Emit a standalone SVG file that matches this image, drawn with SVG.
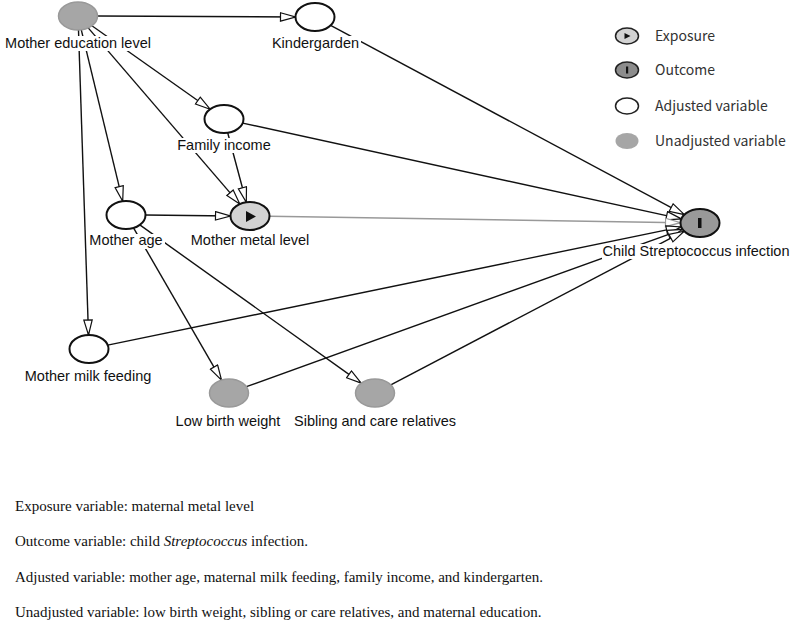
<svg xmlns="http://www.w3.org/2000/svg" width="800" height="622" viewBox="0 0 800 622">
<defs>
<marker id="arr" markerWidth="17" markerHeight="11" refX="16" refY="5" orient="auto" markerUnits="userSpaceOnUse">
<path d="M1,0.8 L16,5 L1,9.2 Z" fill="#fff" stroke="#111" stroke-width="1.2"/>
</marker>
<marker id="arrg" markerWidth="17" markerHeight="11" refX="16" refY="5" orient="auto" markerUnits="userSpaceOnUse">
<path d="M1,0.8 L16,5 L1,9.2 Z" fill="#fff" stroke="#999" stroke-width="1.2"/>
</marker>
</defs>
<style>
.e{stroke:#111;stroke-width:1.4;fill:none;marker-end:url(#arr)}
.eg{stroke:#999;stroke-width:1.4;fill:none;marker-end:url(#arrg)}
.lab{font-family:"Liberation Sans",Arial,sans-serif;font-size:14.5px;fill:#111;text-anchor:middle}
.bg{fill:#fff}
.adj{fill:#fff;stroke:#111;stroke-width:2}
.unadj{fill:#a6a6a6;stroke:#999;stroke-width:1.5}
.leg{font-family:"Noto Sans CJK JP","Noto Sans",sans-serif;font-size:14px;fill:#333}
.cap{font-family:"Liberation Serif","Times New Roman",serif;font-size:15px;fill:#111}
</style>
<rect width="800" height="622" fill="#fff"/>
<g id="connectors">
<line class="e" x1="97.5" y1="16" x2="295.5" y2="17"/>
<line class="e" x1="91.9" y1="25.8" x2="210.1" y2="109.2"/>
<line class="e" x1="88.2" y1="27.9" x2="239.8" y2="204.1"/>
<line class="e" x1="81.3" y1="29.8" x2="122.7" y2="201.2"/>
<line class="e" x1="78.5" y1="30" x2="88.5" y2="335"/>
<line class="e" x1="330.6" y1="25.4" x2="684.4" y2="214.6"/>
<line class="e" x1="242.7" y1="123.1" x2="681.3" y2="218.9"/>
<line class="e" x1="227.7" y1="132.7" x2="246.3" y2="202.3"/>
<line class="e" x1="145.5" y1="215" x2="230.5" y2="216"/>
<line class="eg" x1="269.5" y1="216.3" x2="680.5" y2="222.7"/>
<line class="e" x1="133.5" y1="227.9" x2="221.5" y2="380.1"/>
<line class="e" x1="139.8" y1="224.9" x2="361.2" y2="383.1"/>
<line class="e" x1="107.7" y1="345.1" x2="681.3" y2="226.9"/>
<line class="e" x1="246.4" y1="386.7" x2="682.6" y2="229.3"/>
<line class="e" x1="390.8" y1="384.8" x2="684.2" y2="231.2"/>
</g>
<g id="n-edu">
<ellipse class="unadj" cx="78" cy="16" rx="19.5" ry="14"/>
<rect class="bg" x="3" y="36" width="151" height="15"/>
<text class="lab" x="78" y="48">Mother education level</text>
</g>
<g id="n-kinder">
<ellipse class="adj" cx="315" cy="17" rx="19.5" ry="14"/>
<rect class="bg" x="270" y="36" width="91" height="15"/>
<text class="lab" x="315.5" y="48">Kindergarden</text>
</g>
<g id="n-income">
<ellipse class="adj" cx="224" cy="119" rx="19.5" ry="14"/>
<rect class="bg" x="175" y="138" width="98" height="15"/>
<text class="lab" x="224" y="150">Family income</text>
</g>
<g id="n-age">
<ellipse class="adj" cx="126" cy="215" rx="19.5" ry="14"/>
<rect class="bg" x="87" y="234" width="78" height="15"/>
<text class="lab" x="126" y="245">Mother age</text>
</g>
<g id="n-metal">
<ellipse cx="250" cy="216" rx="19.5" ry="14" fill="#d3d3d3" stroke="#111" stroke-width="2"/>
<path d="M246,211 L256,216.5 L246,222 Z" fill="#111"/>
<rect class="bg" x="189" y="234" width="122" height="15"/>
<text class="lab" x="250" y="245">Mother metal level</text>
</g>
<g id="n-child">
<ellipse cx="700" cy="223" rx="19.5" ry="14" fill="#999" stroke="#111" stroke-width="2"/>
<rect x="698" y="218" width="3.5" height="10" fill="#111"/>
<rect class="bg" x="602" y="244" width="189" height="15"/>
<text class="lab" x="696" y="256">Child Streptococcus infection</text>
</g>
<g id="n-milk">
<ellipse class="adj" cx="89" cy="349" rx="19.5" ry="14"/>
<rect class="bg" x="22" y="370" width="133" height="15"/>
<text class="lab" x="88" y="381">Mother milk feeding</text>
</g>
<g id="n-lbw">
<ellipse class="unadj" cx="229" cy="393" rx="19.5" ry="14"/>
<rect class="bg" x="174" y="414" width="110" height="15"/>
<text class="lab" x="228" y="426">Low birth weight</text>
</g>
<g id="n-sib">
<ellipse class="unadj" cx="375" cy="393" rx="19.5" ry="14"/>
<rect class="bg" x="291" y="414" width="169" height="15"/>
<text class="lab" x="375" y="426">Sibling and care relatives</text>
</g>
<g id="legend">
<ellipse cx="627" cy="36" rx="11.5" ry="8" fill="#d3d3d3" stroke="#222" stroke-width="1.5"/>
<path d="M624.5,33 L630.5,36 L624.5,39 Z" fill="#111"/>
<text class="leg" x="655" y="41">Exposure</text>
<ellipse cx="627" cy="70" rx="11.5" ry="8" fill="#8c8c8c" stroke="#222" stroke-width="1.5"/>
<rect x="626" y="66.5" width="2.2" height="7" fill="#111"/>
<text class="leg" x="655" y="75">Outcome</text>
<ellipse cx="627" cy="106" rx="11.5" ry="8" fill="#fff" stroke="#222" stroke-width="1.5"/>
<text class="leg" x="655" y="111">Adjusted variable</text>
<ellipse cx="627" cy="141" rx="11.5" ry="8" fill="#a6a6a6"/>
<text class="leg" x="655" y="146">Unadjusted variable</text>
</g>
<g id="caption">
<text class="cap" x="15" y="511">Exposure variable: maternal metal level</text>
<text class="cap" x="15" y="546">Outcome variable: child <tspan font-style="italic">Streptococcus</tspan> infection.</text>
<text class="cap" x="15" y="582">Adjusted variable: mother age, maternal milk feeding, family income, and kindergarten.</text>
<text class="cap" x="15" y="617">Unadjusted variable: low birth weight, sibling or care relatives, and maternal education.</text>
</g>
</svg>
